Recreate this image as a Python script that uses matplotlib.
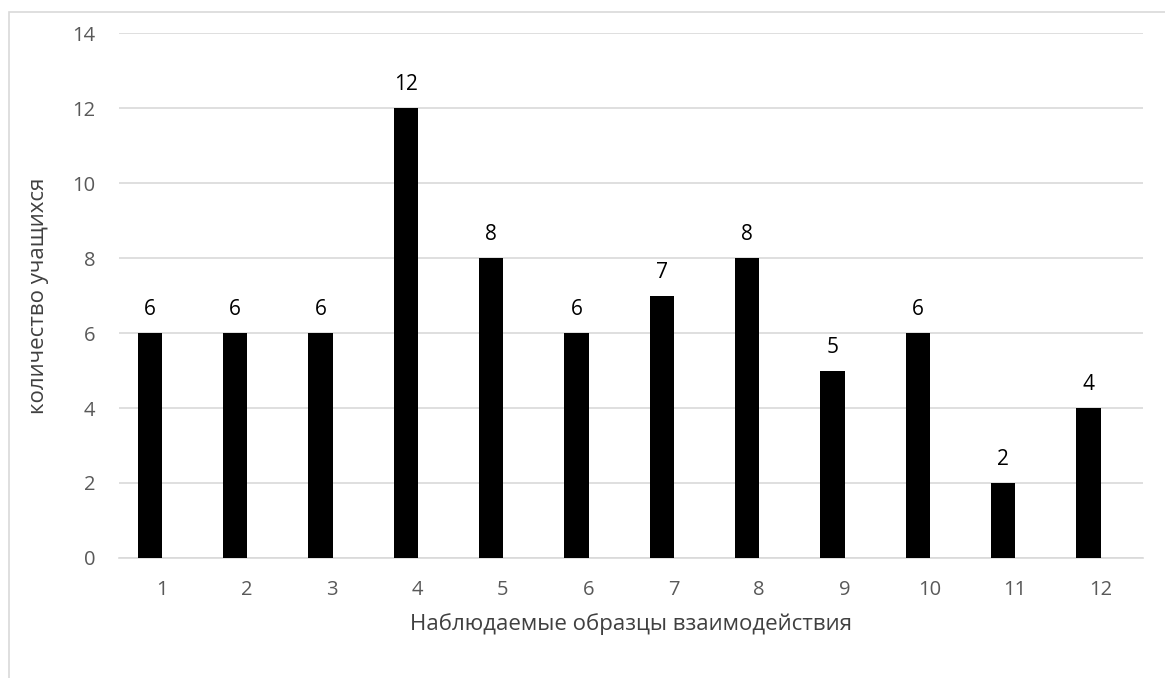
import matplotlib
matplotlib.use("Agg")
import matplotlib.pyplot as plt
from matplotlib.patches import Rectangle

plt.rcParams['font.family'] = ['Open Sans', 'DejaVu Sans']

# ===== данные =====
categories = ["1", "2", "3", "4", "5", "6", "7", "8", "9", "10", "11", "12"]
values = [6, 6, 6, 12, 8, 6, 7, 8, 5, 6, 2, 4]
y_ticks = [0, 2, 4, 6, 8, 10, 12, 14]

x_title = "Наблюдаемые образцы взаимодействия"
y_title = "количество учащихся"

grid_color = "#d9d9d9"
text_color = "#595959"

fig = plt.figure(figsize=(11.65, 6.78), dpi=100)
ax = fig.add_axes([0.1021, 0.177, 0.879, 0.7743])

# рамка диаграммы (как в Excel)
fig.patches.append(Rectangle((9 / 1165, -0.1), 1.2, 1.1 - 12 / 678,
                             transform=fig.transFigure, fill=False,
                             edgecolor=grid_color, linewidth=1.2))

x = list(range(len(categories)))
shift = -0.14   # столбцы чуть левее подписей, как в исходной диаграмме
bar_x = [xi + shift for xi in x]
ax.bar(bar_x, values, width=0.285, color="black", zorder=3)

for bx, v in zip(bar_x, values):
    ax.text(bx, v + 0.48, str(v), ha="center", va="baseline",
            fontsize=15, color="black")

ax.set_xlim(-0.5, len(categories) - 0.5)
ax.set_ylim(0, 14)
ax.set_yticks(y_ticks)
ax.set_xticks(x)
ax.set_xticklabels(categories)

ax.tick_params(axis="both", length=0, labelsize=14.5, labelcolor=text_color)
ax.tick_params(axis="x", pad=16)
ax.tick_params(axis="y", pad=17)

ax.grid(axis="y", color=grid_color, linewidth=1.2, zorder=0)
for s in ["top", "right", "left"]:
    ax.spines[s].set_visible(False)
ax.spines["bottom"].set_color(grid_color)
ax.spines["bottom"].set_linewidth(1.2)

ax.set_xlabel(x_title, fontsize=16, color="#404040", labelpad=9)
ax.set_ylabel(y_title, fontsize=16, color="#404040", labelpad=17)

plt.savefig("out.png", dpi=100)
plt.close()
